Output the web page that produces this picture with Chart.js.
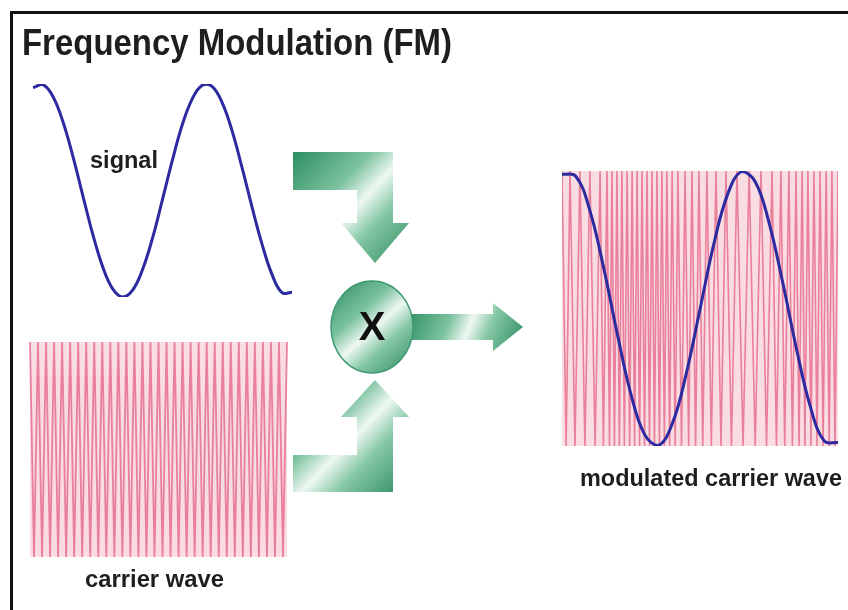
<!DOCTYPE html>
<html>
<head>
<meta charset="utf-8">
<script src="https://cdn.jsdelivr.net/npm/chart.js@4/dist/chart.umd.min.js"></script>
<style>
  html, body { margin: 0; padding: 0; background: #ffffff; }
  #stage { position: relative; width: 848px; height: 610px; overflow: hidden; background: #ffffff; }
  #stage canvas { position: absolute; }
</style>
</head>
<body>
<div id="stage">
  <canvas id="bg" width="848" height="610" style="left:0;top:0"></canvas>
  <canvas id="sig" width="267" height="221" style="left:29px;top:80px"></canvas>
  <canvas id="car" width="261" height="219" style="left:28px;top:340px"></canvas>
  <canvas id="mod" width="282" height="281" style="left:559px;top:168px"></canvas>
</div>
<script>
// ---------- texts ----------
const titleText = 'Frequency Modulation (FM)';
const signalLabel = 'signal';
const carrierLabel = 'carrier wave';
const modulatedLabel = 'modulated carrier wave';
const multiplyLabel = 'X';

// ---------- data ----------
// signal: amplitude samples across the signal panel (left to right)
const signalValues = [0.966, 0.994, 0.883, 0.648, 0.323, -0.047, -0.411, -0.717, -0.923, -1.0,
  -0.936, -0.742, -0.446, -0.084, 0.287, 0.622, 0.863, 0.989, 0.975, 0.822,
  0.555, 0.210, -0.160, -0.506, -0.790, -0.960, -0.955];

// carrier wave: constant-frequency swings between +1 and -1
const carrierValues = [1, -1, 1, -1, 1, -1, 1, -1, 1, -1, 1, -1, 1, -1, 1, -1,
  1, -1, 1, -1, 1, -1, 1, -1, 1, -1, 1, -1, 1, -1, 1, -1,
  1, -1, 1, -1, 1, -1, 1, -1, 1, -1, 1, -1, 1, -1, 1, -1,
  1, -1, 1, -1, 1, -1, 1, -1, 1, -1, 1, -1, 1, -1, 1, -1, 1];

// modulated carrier: times (0-100 across panel) of each swing; sparse near signal peaks, dense near troughs
const modTimes = [0, 1.5, 2.9, 4.7, 6.5, 8.3, 10.1, 12.0, 13.8, 15.0,
  16.3, 17.2, 18.1, 19.0, 19.9, 20.8, 21.7, 22.6, 23.6, 24.5,
  25.4, 26.3, 27.2, 28.1, 29.0, 29.9, 30.8, 31.7, 32.6, 33.5,
  34.4, 35.3, 36.2, 37.1, 38.0, 39.0, 39.9, 41.0, 42.0, 43.3,
  44.6, 45.9, 47.1, 48.4, 49.6, 51.0, 52.5, 54.1, 55.8, 57.6,
  59.4, 61.4, 63.4, 65.6, 67.8, 70.0, 72.1, 74.1, 76.1, 77.7,
  79.3, 80.7, 82.2, 83.5, 84.8, 85.9, 87.0, 88.0, 89.1, 90.2,
  91.3, 92.4, 93.5, 94.6, 95.7, 96.8, 97.8, 98.9, 100];
const modCarrierValues = [1, -1, 1, -1, 1, -1, 1, -1, 1, -1,
  1, -1, 1, -1, 1, -1, 1, -1, 1, -1,
  1, -1, 1, -1, 1, -1, 1, -1, 1, -1,
  1, -1, 1, -1, 1, -1, 1, -1, 1, -1,
  1, -1, 1, -1, 1, -1, 1, -1, 1, -1,
  1, -1, 1, -1, 1, -1, 1, -1, 1, -1,
  1, -1, 1, -1, 1, -1, 1, -1, 1, -1,
  1, -1, 1, -1, 1, -1, 1, -1, 1];

// signal overlaid on the modulated carrier
const modSignalTimes = [0, 5, 10, 15, 20, 25, 30, 35, 40, 45, 50, 55, 60, 65, 70, 75, 80, 85, 90, 95, 100];
const modSignalValues = [0.977, 0.962, 0.719, 0.305, -0.181, -0.625, -0.919, -0.996, -0.835, -0.476,
  -0.005, 0.468, 0.830, 0.995, 0.922, 0.625, 0.186, -0.297, -0.715, -0.963, -0.975];

// ---------- styles ----------
const WAVE_BLUE = '#2c2aa0';
const PINK = 'rgba(230,104,136,0.8)';
const PINK_BG = 'rgba(244,188,200,0.5)';
const TEXT = '#1e1e1e';

Chart.defaults.animation = false;
Chart.defaults.responsive = false;
Chart.defaults.devicePixelRatio = 1;
Chart.defaults.plugins.legend.display = false;
Chart.defaults.plugins.tooltip.enabled = false;

function hiddenScale(extra) {
  return Object.assign({ display: false, grid: { display: false } }, extra);
}

const areaBg = {
  id: 'areaBg',
  beforeDatasetsDraw(chart, args, opts) {
    if (!opts.color) return;
    const a = chart.chartArea, ctx = chart.ctx;
    ctx.save();
    ctx.fillStyle = opts.color;
    ctx.fillRect(a.left, a.top, a.right - a.left, a.bottom - a.top);
    ctx.restore();
  }
};

function fitText(ctx, text, x, y, font, width) {
  ctx.font = font;
  const w = ctx.measureText(text).width;
  ctx.save();
  ctx.translate(x, y);
  ctx.scale(width / w, 1);
  ctx.textBaseline = 'alphabetic';
  ctx.textAlign = 'left';
  ctx.fillText(text, 0, 0);
  ctx.restore();
}

function greenGrad(ctx, x0, y0, x1, y1) {
  const g = ctx.createLinearGradient(x0, y0, x1, y1);
  g.addColorStop(0, '#2c8e62');
  g.addColorStop(0.35, '#7cc2a0');
  g.addColorStop(0.52, '#eef8f2');
  g.addColorStop(0.68, '#86c7a6');
  g.addColorStop(1, '#2a8a5e');
  return g;
}

function poly(ctx, pts) {
  ctx.beginPath();
  ctx.moveTo(pts[0][0], pts[0][1]);
  for (let i = 1; i < pts.length; i++) ctx.lineTo(pts[i][0], pts[i][1]);
  ctx.closePath();
}

// ---------- background diagram (frame, title, arrows, multiplier, labels) ----------
const diagram = {
  id: 'diagram',
  afterDraw(chart) {
    const ctx = chart.ctx;
    ctx.save();
    // frame
    ctx.strokeStyle = '#111';
    ctx.lineWidth = 3;
    ctx.beginPath();
    ctx.moveTo(11.5, 612);
    ctx.lineTo(11.5, 12.5);
    ctx.lineTo(850, 12.5);
    ctx.stroke();

    // title
    ctx.fillStyle = TEXT;
    fitText(ctx, titleText, 22, 55, 'bold 37px "Liberation Sans", Arial, sans-serif', 430);

    // labels
    fitText(ctx, signalLabel, 90, 168, 'bold 23px "Liberation Sans", Arial, sans-serif', 68);
    fitText(ctx, carrierLabel, 85, 587, 'bold 23px "Liberation Sans", Arial, sans-serif', 139);
    fitText(ctx, modulatedLabel, 580, 486, 'bold 23px "Liberation Sans", Arial, sans-serif', 262);

    // top arrow
    const top = [[293,152],[393,152],[393,223],[409,223],[375,263],[341,223],[357,223],[357,190],[293,190]];
    poly(ctx, top);
    ctx.fillStyle = greenGrad(ctx, 293, 152, 409, 263);
    ctx.fill();
    // bottom arrow
    const bot = [[293,492],[393,492],[393,417],[409,417],[375,380],[341,417],[357,417],[357,455],[293,455]];
    poly(ctx, bot);
    ctx.fillStyle = greenGrad(ctx, 293, 380, 409, 492);
    ctx.fill();
    // right arrow
    const right = [[410,314],[493,314],[493,303],[523,327],[493,351],[493,340],[410,340]];
    poly(ctx, right);
    ctx.fillStyle = greenGrad(ctx, 410, 303, 523, 351);
    ctx.fill();

    // multiplier circle
    ctx.beginPath();
    ctx.ellipse(372, 327, 41, 46, 0, 0, Math.PI * 2);
    ctx.fillStyle = greenGrad(ctx, 331, 281, 413, 373);
    ctx.fill();
    ctx.lineWidth = 1.5;
    ctx.strokeStyle = '#3f9a73';
    ctx.stroke();
    ctx.fillStyle = '#111';
    ctx.font = 'bold 40px "Liberation Sans", Arial, sans-serif';
    ctx.textAlign = 'center';
    ctx.textBaseline = 'middle';
    ctx.fillText(multiplyLabel, 372, 329);
    ctx.restore();
  }
};

new Chart(document.getElementById('bg'), {
  type: 'scatter',
  data: { datasets: [] },
  options: {
    scales: { x: hiddenScale({ min: 0, max: 1 }), y: hiddenScale({ min: 0, max: 1 }) }
  },
  plugins: [diagram]
});

// ---------- signal ----------
new Chart(document.getElementById('sig'), {
  type: 'line',
  data: {
    labels: signalValues.map((_, i) => i),
    datasets: [{
      data: signalValues,
      borderColor: WAVE_BLUE,
      borderWidth: 3,
      pointRadius: 0,
      tension: 0.4,
      fill: false
    }]
  },
  options: {
    layout: { padding: 4 },
    scales: { x: hiddenScale({ offset: false }), y: hiddenScale({ min: -1, max: 1 }) }
  }
});

// ---------- carrier ----------
new Chart(document.getElementById('car'), {
  type: 'line',
  data: {
    labels: carrierValues.map((_, i) => i),
    datasets: [{
      data: carrierValues,
      borderColor: PINK,
      borderWidth: 1.8,
      pointRadius: 0,
      tension: 0,
      fill: false
    }]
  },
  options: {
    layout: { padding: 2 },
    plugins: { areaBg: { color: PINK_BG } },
    scales: { x: hiddenScale({ offset: false }), y: hiddenScale({ min: -1, max: 1 }) }
  },
  plugins: [areaBg]
});

// ---------- modulated carrier ----------
new Chart(document.getElementById('mod'), {
  type: 'line',
  data: {
    datasets: [{
      data: modTimes.map((t, i) => ({ x: t, y: modCarrierValues[i] })),
      borderColor: PINK,
      borderWidth: 1.6,
      pointRadius: 0,
      tension: 0,
      fill: false,
      order: 2
    }, {
      data: modSignalTimes.map((t, i) => ({ x: t, y: modSignalValues[i] })),
      borderColor: WAVE_BLUE,
      borderWidth: 3,
      pointRadius: 0,
      tension: 0.4,
      fill: false,
      order: 1
    }]
  },
  options: {
    layout: { padding: 3 },
    plugins: { areaBg: { color: PINK_BG } },
    scales: { x: hiddenScale({ type: 'linear', min: 0, max: 100 }), y: hiddenScale({ min: -1, max: 1 }) }
  },
  plugins: [areaBg]
});
</script>
</body>
</html>
